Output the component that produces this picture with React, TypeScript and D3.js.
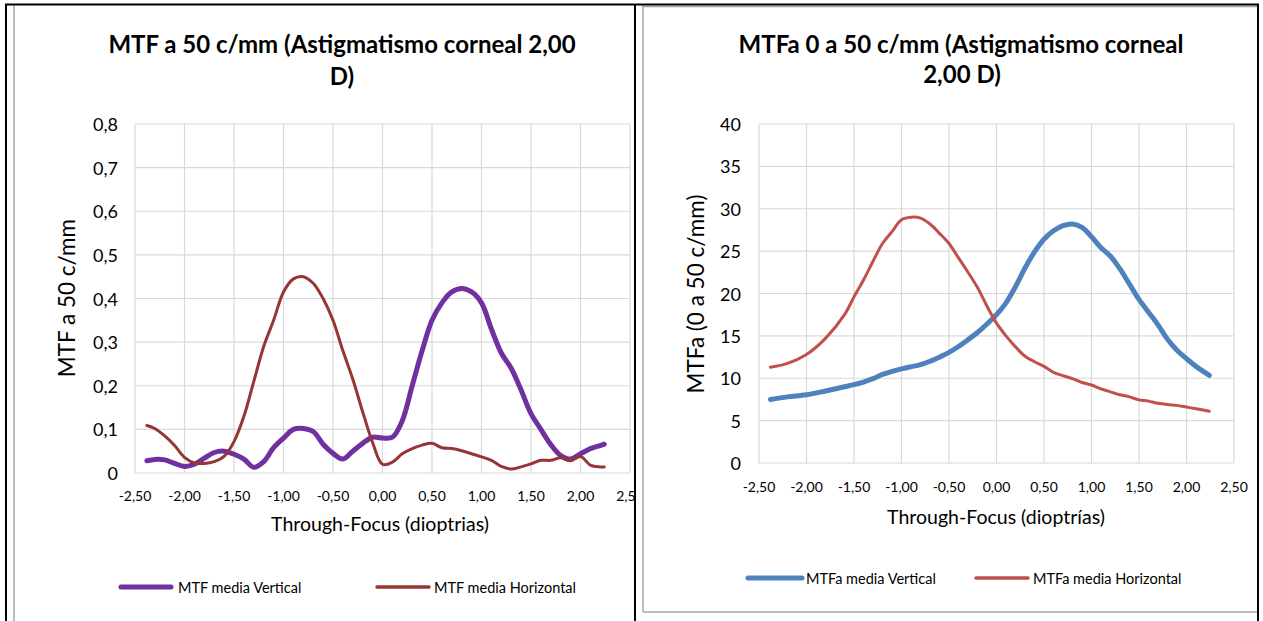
import React from "react";
import * as d3 from "d3";

// ---------- Left chart data: MTF a 50 c/mm ----------
const xLeft = [-2.38, -2.3, -2.2, -2.1, -2.0, -1.9, -1.8, -1.7, -1.6, -1.5, -1.4, -1.3, -1.2, -1.1, -1.0, -0.9, -0.8, -0.7, -0.6, -0.5, -0.4, -0.3, -0.2, -0.1, 0.0, 0.1, 0.2, 0.3, 0.4, 0.5, 0.6, 0.7, 0.8, 0.9, 1.0, 1.1, 1.2, 1.3, 1.4, 1.5, 1.6, 1.7, 1.8, 1.9, 2.0, 2.1, 2.2, 2.24];
const mtfVertical = [0.028, 0.031, 0.030, 0.022, 0.015, 0.020, 0.034, 0.047, 0.050, 0.043, 0.032, 0.013, 0.026, 0.058, 0.080, 0.100, 0.102, 0.095, 0.066, 0.045, 0.032, 0.050, 0.068, 0.082, 0.080, 0.082, 0.120, 0.200, 0.280, 0.350, 0.390, 0.415, 0.423, 0.415, 0.390, 0.330, 0.275, 0.240, 0.190, 0.136, 0.100, 0.065, 0.040, 0.032, 0.044, 0.056, 0.063, 0.066];
const mtfHorizontal = [0.109, 0.102, 0.085, 0.063, 0.036, 0.023, 0.022, 0.026, 0.038, 0.072, 0.130, 0.210, 0.290, 0.350, 0.415, 0.445, 0.450, 0.435, 0.400, 0.350, 0.280, 0.215, 0.140, 0.070, 0.020, 0.025, 0.044, 0.056, 0.064, 0.068, 0.058, 0.056, 0.051, 0.044, 0.037, 0.029, 0.015, 0.009, 0.014, 0.021, 0.029, 0.029, 0.035, 0.028, 0.038, 0.018, 0.014, 0.014];
const leftYTicks = [0, 0.1, 0.2, 0.3, 0.4, 0.5, 0.6, 0.7, 0.8];

// ---------- Right chart data: MTFa 0 a 50 c/mm ----------
const xRight = [-2.38, -2.2, -2.0, -1.8, -1.6, -1.5, -1.4, -1.3, -1.2, -1.1, -1.0, -0.9, -0.8, -0.7, -0.6, -0.5, -0.4, -0.3, -0.2, -0.1, 0.0, 0.1, 0.2, 0.3, 0.4, 0.5, 0.6, 0.7, 0.8, 0.9, 1.0, 1.1, 1.2, 1.3, 1.4, 1.5, 1.6, 1.7, 1.8, 1.9, 2.0, 2.1, 2.24];
const mtfaVertical = [7.5, 7.8, 8.05, 8.5, 9.0, 9.25, 9.55, 9.95, 10.45, 10.8, 11.1, 11.35, 11.6, 12.0, 12.5, 13.05, 13.75, 14.55, 15.4, 16.4, 17.5, 18.9, 20.8, 23.0, 24.9, 26.4, 27.4, 28.0, 28.2, 27.8, 26.7, 25.4, 24.4, 22.9, 21.1, 19.3, 17.8, 16.3, 14.6, 13.3, 12.3, 11.4, 10.35];
const mtfaHorizontal = [11.3, 11.75, 12.8, 14.7, 17.5, 19.6, 21.6, 23.8, 25.9, 27.3, 28.7, 29.0, 28.9, 28.2, 27.1, 25.9, 24.2, 22.5, 20.7, 18.5, 16.5, 15.0, 13.7, 12.6, 11.95, 11.4, 10.7, 10.3, 9.95, 9.5, 9.2, 8.75, 8.4, 8.05, 7.8, 7.45, 7.3, 7.05, 6.9, 6.8, 6.6, 6.4, 6.1];
const rightYTicks = [0, 5, 10, 15, 20, 25, 30, 35, 40];

const xTicks = [-2.5, -2.0, -1.5, -1.0, -0.5, 0.0, 0.5, 1.0, 1.5, 2.0, 2.5];

const FONT = "Lato, 'Open Sans', sans-serif";
const GRID = "#D9D9D9";

const fmtComma = (v: number, digits: number) => v.toFixed(digits).replace(".", ",");

type Series = { xs: number[]; ys: number[]; color: string; width: number };

function Chart(props: {
  x0: number; x1: number; yTop: number; yBottom: number; yMax: number;
  yTicks: number[]; yFmt: (v: number) => string; yLabelX: number; xLabelY: number;
  series: Series[];
}) {
  const { x0, x1, yTop, yBottom, yMax, yTicks, yFmt, yLabelX, xLabelY, series } = props;
  const x = d3.scaleLinear().domain([-2.5, 2.5]).range([x0, x1]);
  const y = d3.scaleLinear().domain([0, yMax]).range([yBottom, yTop]);
  const line = d3.line<[number, number]>()
    .x((d) => x(d[0]))
    .y((d) => y(d[1]))
    .curve(d3.curveCatmullRom.alpha(0.5));
  return (
    <g>
      {yTicks.map((t) => (
        <line key={"gy" + t} x1={x0} x2={x1} y1={y(t)} y2={y(t)} stroke={GRID} strokeWidth={1.2} />
      ))}
      {xTicks.map((t) => (
        <line key={"gx" + t} x1={x(t)} x2={x(t)} y1={yTop} y2={yBottom} stroke={GRID} strokeWidth={1.2} />
      ))}
      {yTicks.map((t) => (
        <text key={"ty" + t} x={yLabelX} y={y(t)} textAnchor="end" dominantBaseline="central"
          fontFamily={FONT} fontSize={18} fill="#000">{yFmt(t)}</text>
      ))}
      {xTicks.map((t) => (
        <text key={"tx" + t} x={x(t)} y={xLabelY} textAnchor="middle" dominantBaseline="central"
          fontFamily={FONT} fontSize={14} fill="#000">{fmtComma(t, 2)}</text>
      ))}
      {series.map((s, i) => (
        <path key={"s" + i}
          d={line(s.xs.map((xv, j) => [xv, s.ys[j]] as [number, number])) || ""}
          fill="none" stroke={s.color} strokeWidth={s.width} strokeLinecap="round" strokeLinejoin="round" />
      ))}
    </g>
  );
}

export default function App() {
  const purple = "#7030A0";
  const darkRed = "#963634";
  const blue = "#4F81BD";
  const red = "#C0504D";
  return (
    <svg width={1263} height={621} style={{ position: "absolute", left: 0, top: 0, background: "#fff" }}>
      <rect x={0} y={0} width={1263} height={621} fill="#fff" />
      <defs>
        <clipPath id="clipLeft"><rect x={0} y={0} width={634} height={621} /></clipPath>
      </defs>
      {/* chart area borders */}
      <line x1={14} x2={14} y1={5} y2={621} stroke="#A6A6A6" strokeWidth={1.5} />
      <line x1={643} x2={643} y1={5} y2={612} stroke="#A6A6A6" strokeWidth={1.5} />
      <line x1={643} x2={1258} y1={6.5} y2={6.5} stroke="#A6A6A6" strokeWidth={1.5} />
      <line x1={643} x2={1258} y1={612} y2={612} stroke="#A6A6A6" strokeWidth={1.5} />

      {/* Left chart */}
      <g clipPath="url(#clipLeft)">
        <Chart x0={135} x1={630} yTop={124} yBottom={473} yMax={0.8}
          yTicks={leftYTicks} yFmt={(v) => (v === 0 ? "0" : fmtComma(v, 1))}
          yLabelX={118} xLabelY={495}
          series={[
            { xs: xLeft, ys: mtfVertical, color: purple, width: 5 },
            { xs: xLeft, ys: mtfHorizontal, color: darkRed, width: 3 },
          ]} />
      </g>
      <text x={342} y={53} textAnchor="middle" fontFamily={FONT} fontWeight="bold" fontSize={24}>MTF a 50 c/mm (Astigmatismo corneal 2,00</text>
      <text x={342} y={85} textAnchor="middle" fontFamily={FONT} fontWeight="bold" fontSize={24}>D)</text>
      <text transform="translate(66,298) rotate(-90)" textAnchor="middle" dominantBaseline="central"
        fontFamily={FONT} fontSize={22.5}>MTF a 50 c/mm</text>
      <text x={380} y={523} textAnchor="middle" dominantBaseline="central" fontFamily={FONT} fontSize={19.5}>Through-Focus (dioptrias)</text>
      <line x1={121} x2={171} y1={587} y2={587} stroke={purple} strokeWidth={5} strokeLinecap="round" />
      <text x={178} y={587} dominantBaseline="central" fontFamily={FONT} fontSize={14.5}>MTF media Vertical</text>
      <line x1={377} x2={429} y1={587} y2={587} stroke={darkRed} strokeWidth={3.5} strokeLinecap="round" />
      <text x={434} y={587} dominantBaseline="central" fontFamily={FONT} fontSize={14.5}>MTF media Horizontal</text>

      {/* Right chart */}
      <Chart x0={759} x1={1234} yTop={124} yBottom={463} yMax={40}
        yTicks={rightYTicks} yFmt={(v) => String(v)}
        yLabelX={741} xLabelY={486}
        series={[
          { xs: xRight, ys: mtfaVertical, color: blue, width: 5 },
          { xs: xRight, ys: mtfaHorizontal, color: red, width: 3 },
        ]} />
      <text x={961} y={53} textAnchor="middle" fontFamily={FONT} fontWeight="bold" fontSize={24}>MTFa 0 a 50 c/mm (Astigmatismo corneal</text>
      <text x={962} y={83} textAnchor="middle" fontFamily={FONT} fontWeight="bold" fontSize={24}>2,00 D)</text>
      <text transform="translate(695,294) rotate(-90)" textAnchor="middle" dominantBaseline="central"
        fontFamily={FONT} fontSize={22.5}>MTFa (0 a 50 c/mm)</text>
      <text x={996} y={516} textAnchor="middle" dominantBaseline="central" fontFamily={FONT} fontSize={19.5}>Through-Focus (dioptrías)</text>
      <line x1={748} x2={802} y1={578} y2={578} stroke={blue} strokeWidth={5} strokeLinecap="round" />
      <text x={806} y={578} dominantBaseline="central" fontFamily={FONT} fontSize={14.5}>MTFa media Vertical</text>
      <line x1={976} x2={1028} y1={578} y2={578} stroke={red} strokeWidth={3.5} strokeLinecap="round" />
      <text x={1033} y={578} dominantBaseline="central" fontFamily={FONT} fontSize={14.5}>MTFa media Horizontal</text>

      {/* black table borders */}
      <line x1={5} x2={1259} y1={4.5} y2={4.5} stroke="#000" strokeWidth={2} />
      <line x1={6} x2={6} y1={4} y2={621} stroke="#000" strokeWidth={2} />
      <line x1={635} x2={635} y1={4} y2={621} stroke="#000" strokeWidth={2} />
      <line x1={1258} x2={1258} y1={4} y2={621} stroke="#000" strokeWidth={2} />
    </svg>
  );
}
